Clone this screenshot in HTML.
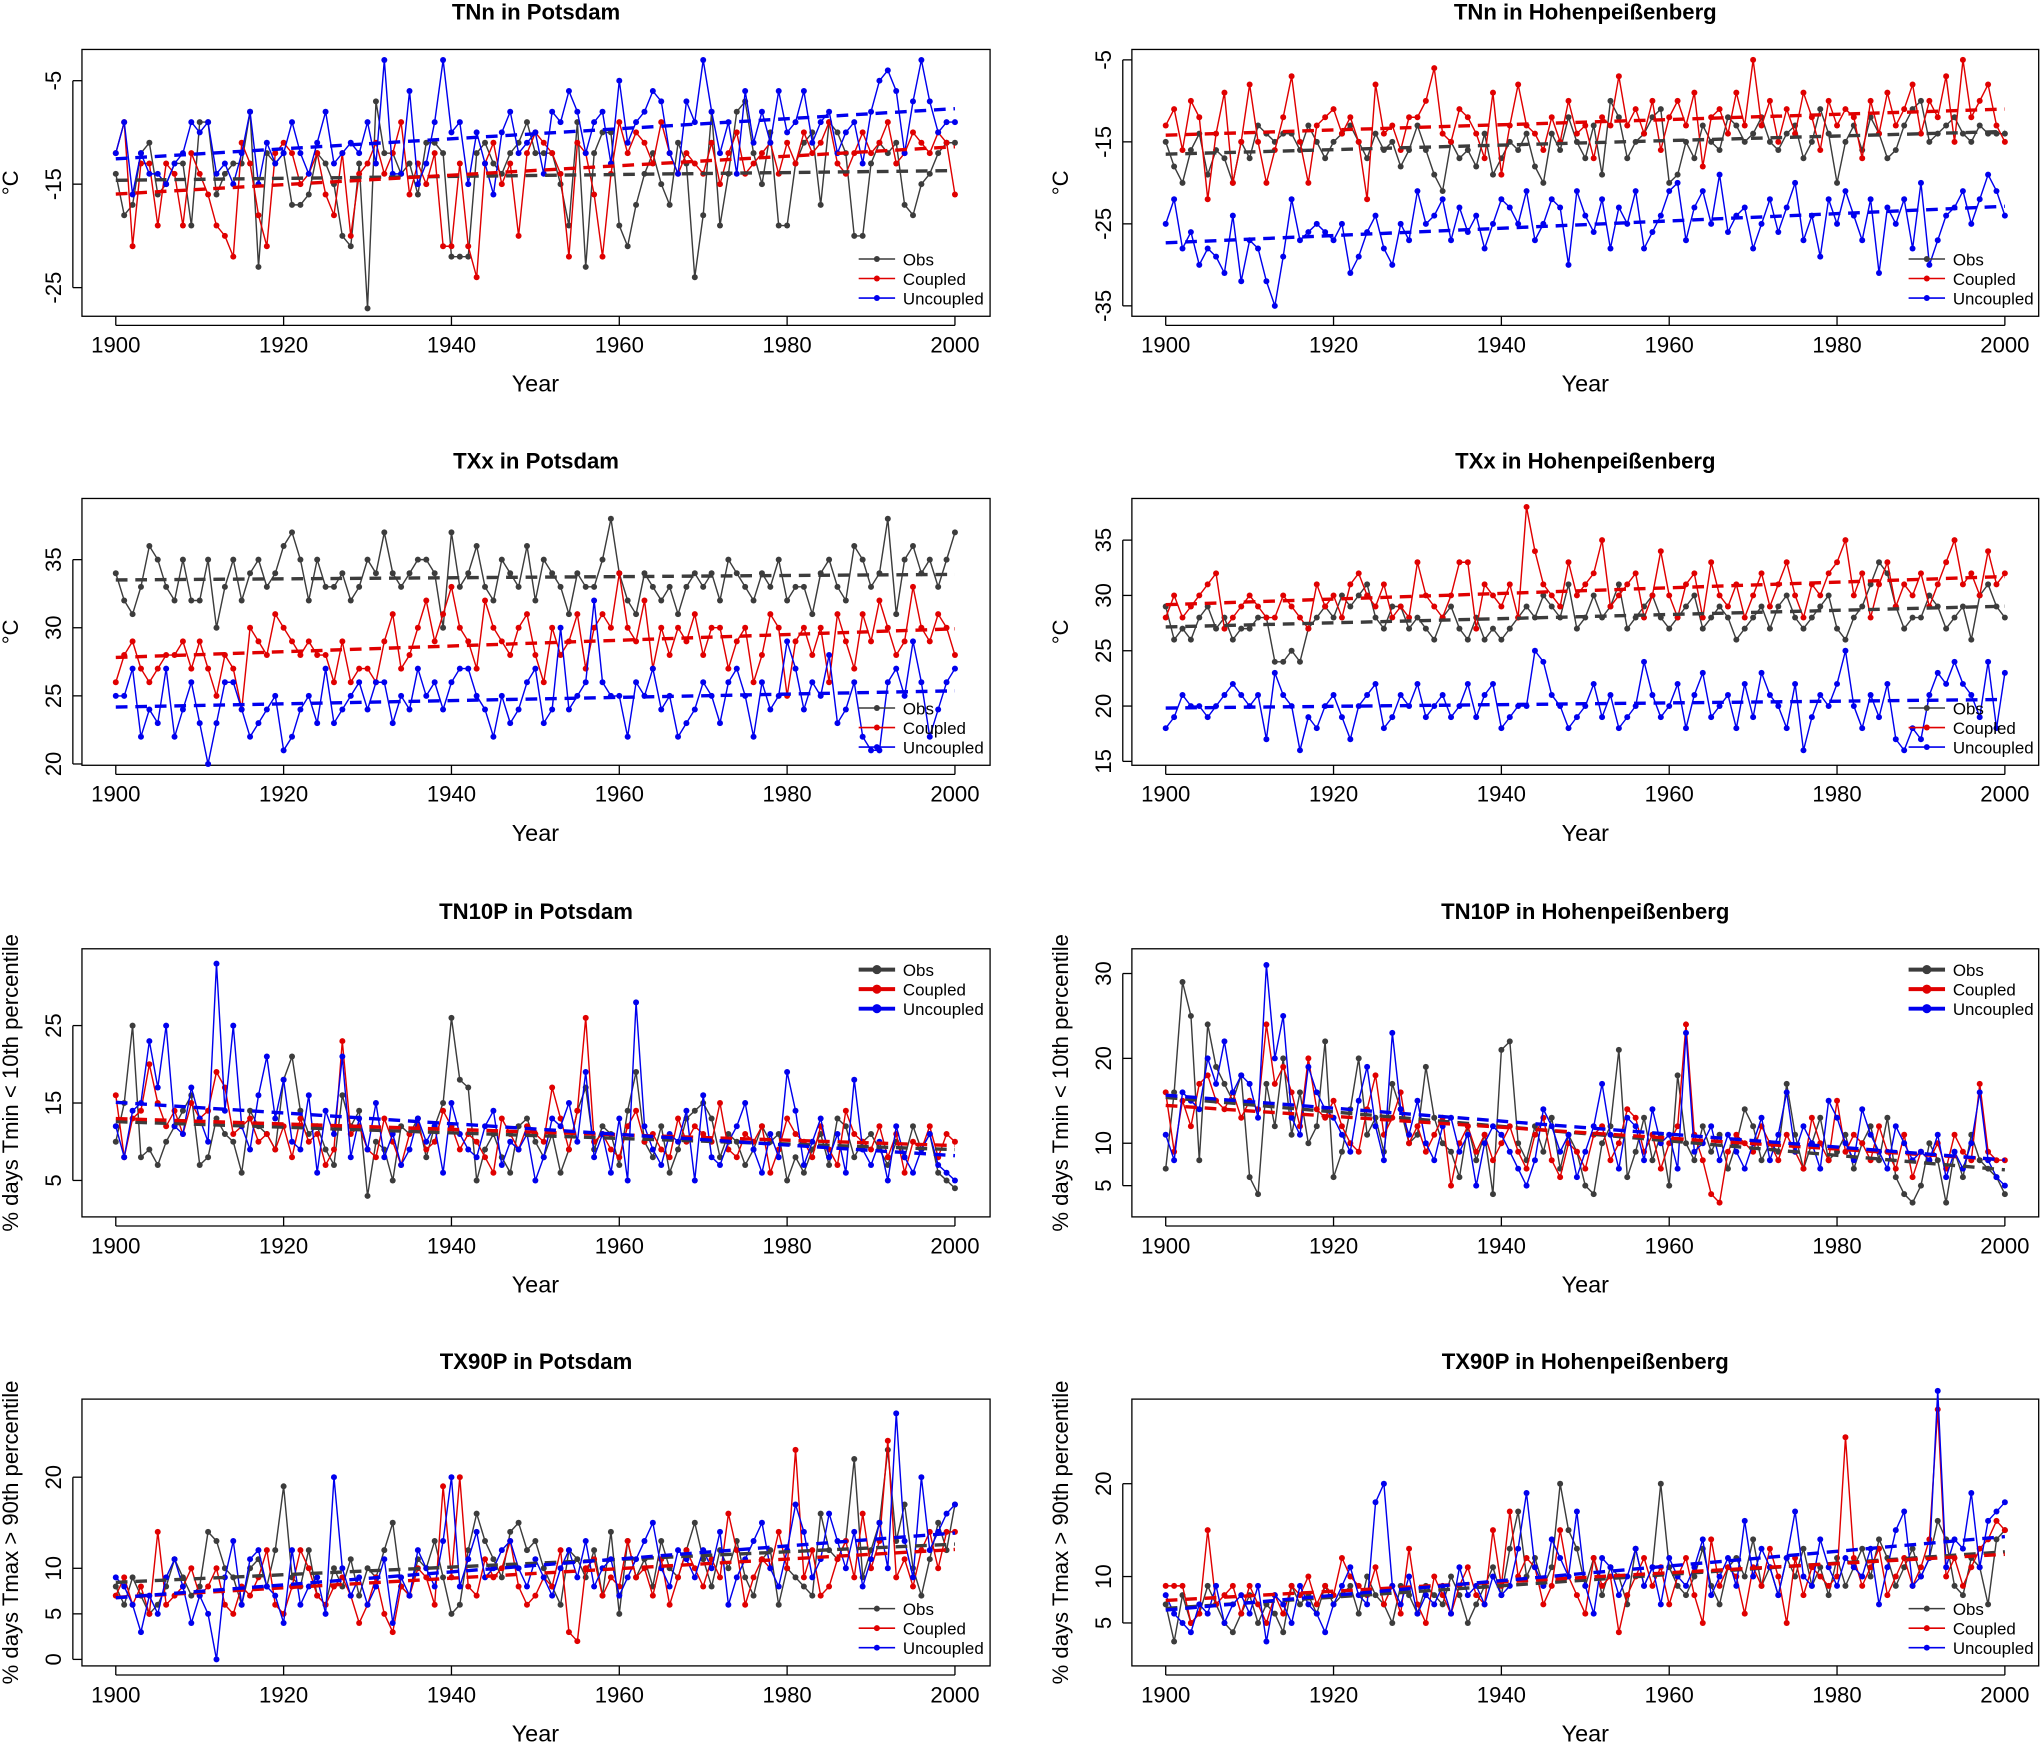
<!DOCTYPE html>
<html><head><meta charset="utf-8"><title>Climate extremes</title>
<style>html,body{margin:0;padding:0;background:#fff}svg{display:block;font-family:"Liberation Sans",Arial,sans-serif}</style>
</head><body>
<svg id="chart" width="2040" height="1744" viewBox="0 0 1568 1340" preserveAspectRatio="none" xmlns="http://www.w3.org/2000/svg"></svg>
<script>
const years=[];for(let y=1900;y<=2000;y++)years.push(y);
const xTicks=[1900,1920,1940,1960,1980,2000];
const p1Obs=[-14,-18,-17,-12,-11,-16,-15,-13,-13,-19,-9,-9,-16,-14,-13,-13,-8,-23,-12,-13,-12,-17,-17,-16,-12,-13,-15,-20,-21,-13,-27,-7,-12,-12,-14,-13,-16,-11,-11,-12,-22,-22,-22,-12,-11,-13,-14,-12,-11,-9,-12,-12,-12,-15,-19,-9,-23,-12,-10,-10,-19,-21,-17,-14,-12,-15,-17,-11,-13,-24,-18,-8,-19,-14,-8,-7,-12,-15,-10,-19,-19,-13,-11,-10,-17,-9,-10,-12,-20,-20,-13,-11,-12,-11,-17,-18,-15,-14,-12,-11,-11];
const p1Cpl=[-12,-9,-21,-13,-13,-19,-13,-14,-19,-12,-14,-16,-19,-20,-22,-11,-13,-18,-21,-12,-11,-12,-15,-14,-12,-16,-18,-12,-20,-14,-13,-11,-14,-12,-9,-16,-13,-15,-12,-21,-21,-13,-21,-24,-13,-11,-15,-13,-20,-12,-10,-11,-12,-14,-22,-11,-12,-16,-22,-14,-9,-12,-10,-11,-13,-9,-12,-14,-12,-13,-14,-11,-15,-12,-10,-14,-13,-12,-11,-14,-11,-13,-10,-12,-11,-9,-13,-14,-12,-10,-12,-11,-9,-13,-12,-10,-11,-12,-10,-11,-16];
const p1Unc=[-12,-9,-16,-12,-14,-14,-15,-13,-12,-9,-10,-9,-14,-13,-15,-12,-8,-15,-11,-13,-12,-9,-12,-14,-11,-8,-13,-12,-11,-12,-9,-13,-3,-14,-14,-6,-15,-13,-9,-3,-10,-9,-15,-10,-13,-16,-10,-8,-12,-11,-10,-14,-8,-9,-6,-8,-12,-9,-8,-13,-5,-11,-9,-8,-6,-7,-12,-14,-7,-9,-3,-8,-12,-9,-14,-6,-11,-8,-11,-6,-10,-9,-6,-11,-9,-8,-12,-10,-9,-13,-8,-5,-4,-6,-12,-7,-3,-7,-10,-9,-9];
const p2Obs=[-15,-18,-20,-16,-14,-19,-16,-17,-20,-15,-17,-13,-14,-15,-14,-14,-16,-13,-15,-17,-15,-14,-13,-15,-17,-14,-16,-15,-18,-16,-13,-16,-19,-21,-15,-17,-16,-18,-14,-19,-17,-15,-16,-14,-18,-20,-14,-16,-12,-15,-17,-13,-19,-10,-12,-17,-15,-14,-12,-11,-20,-19,-15,-17,-13,-15,-16,-12,-13,-15,-14,-12,-15,-16,-14,-13,-17,-15,-11,-14,-20,-15,-13,-16,-12,-14,-17,-16,-13,-11,-10,-15,-14,-13,-12,-14,-15,-13,-14,-14,-14];
const p2Cpl=[-13,-11,-16,-10,-12,-22,-14,-9,-20,-15,-8,-15,-20,-16,-12,-7,-15,-20,-13,-12,-11,-14,-12,-15,-22,-8,-14,-13,-16,-12,-12,-10,-6,-14,-15,-11,-12,-14,-17,-9,-19,-13,-8,-13,-14,-16,-12,-15,-10,-14,-13,-17,-12,-13,-7,-13,-11,-14,-10,-16,-12,-10,-13,-9,-18,-12,-11,-14,-9,-13,-5,-13,-10,-15,-11,-14,-9,-12,-16,-10,-13,-11,-12,-17,-10,-14,-9,-13,-11,-8,-14,-10,-12,-7,-15,-5,-12,-10,-8,-13,-15];
const p2Unc=[-25,-22,-28,-26,-30,-28,-29,-31,-24,-32,-27,-28,-32,-35,-29,-22,-27,-26,-25,-26,-27,-25,-31,-29,-26,-24,-28,-30,-25,-27,-21,-25,-24,-22,-27,-23,-26,-24,-28,-25,-22,-23,-25,-21,-27,-25,-22,-23,-30,-21,-24,-26,-22,-28,-23,-25,-21,-28,-26,-24,-21,-20,-27,-23,-21,-25,-19,-26,-24,-23,-28,-25,-22,-26,-23,-20,-27,-24,-29,-22,-25,-21,-24,-27,-22,-31,-23,-25,-22,-28,-20,-30,-27,-24,-23,-21,-25,-22,-19,-21,-24];
const p3Obs=[34,32,31,33,36,35,33,32,35,32,32,35,30,33,35,32,34,35,33,34,36,37,35,32,35,33,33,34,32,33,35,34,37,34,33,34,35,35,34,30,37,33,34,36,33,32,35,34,33,36,32,35,34,33,31,34,33,33,35,38,34,32,31,34,33,32,33,31,33,34,33,34,32,35,34,33,32,34,33,35,32,33,33,31,34,35,33,32,36,35,33,34,38,31,35,36,34,35,33,35,37];
const p3Cpl=[26,28,29,27,26,27,28,28,29,27,29,27,25,28,27,24,30,29,28,31,30,29,28,29,28,28,26,29,26,27,27,26,29,31,27,28,30,32,29,31,33,30,29,27,32,30,29,28,30,31,28,26,30,28,29,31,27,30,31,30,34,30,29,32,27,30,28,30,29,31,28,30,30,27,29,30,26,28,31,30,25,29,30,28,30,26,31,29,27,31,29,32,30,28,29,33,30,29,31,30,28];
const p3Unc=[25,25,27,22,24,23,27,22,24,26,23,20,23,26,26,24,22,23,24,25,21,22,24,25,23,27,23,24,25,26,24,26,26,23,25,24,27,25,26,24,26,27,27,25,24,22,25,23,24,26,27,23,24,30,24,25,26,32,26,25,25,22,26,25,27,24,25,22,23,24,26,25,23,26,27,25,22,26,24,25,29,27,24,26,25,28,23,24,26,22,21,21,26,27,25,29,26,22,24,26,27];
const p4Obs=[29,26,27,26,28,29,27,28,26,27,27,28,28,24,24,25,24,27,28,29,28,30,29,30,31,28,27,29,29,27,28,27,26,28,29,27,26,28,26,27,26,27,28,29,28,30,29,28,31,27,28,30,28,29,31,27,28,29,30,28,27,28,29,30,27,28,29,28,26,27,28,29,27,29,30,28,27,28,29,30,27,26,28,29,31,33,32,29,27,28,28,30,29,27,28,29,26,30,31,29,28];
const p4Cpl=[28,30,28,29,30,31,32,27,28,29,30,29,28,28,30,29,28,27,31,29,30,28,31,32,30,29,31,28,29,28,33,30,29,28,30,33,33,27,31,30,29,31,28,38,34,31,30,29,33,30,31,32,35,29,30,31,32,28,30,34,30,28,31,32,28,33,30,29,31,28,30,32,29,31,33,30,28,31,30,32,33,35,30,32,28,31,33,29,31,30,32,29,31,33,35,31,32,30,34,31,32];
const p4Unc=[18,19,21,20,20,19,20,21,22,21,20,21,17,23,21,20,16,19,18,20,21,19,17,20,21,22,18,19,21,20,22,19,20,21,19,20,22,19,21,22,18,19,20,20,25,24,21,20,18,19,20,22,19,21,18,19,20,24,21,19,20,22,18,21,23,19,20,21,18,22,19,23,21,20,18,22,16,19,21,20,22,25,20,18,21,19,22,17,16,18,17,21,23,22,24,22,21,19,24,18,23];
const p5Obs=[10,15,25,8,9,7,10,12,14,16,7,8,13,11,10,6,14,12,11,9,18,21,14,11,12,9,7,16,12,14,3,10,9,5,12,11,13,8,12,15,26,18,17,5,9,11,8,6,12,13,10,8,11,6,9,14,17,9,12,11,7,14,19,10,8,12,6,9,13,14,15,13,8,11,10,7,9,12,10,11,5,8,6,9,11,7,13,12,8,10,11,9,7,10,8,12,9,11,6,5,4];
const p5Cpl=[16,8,13,14,20,15,12,14,11,15,13,14,19,17,11,12,13,10,11,9,12,8,13,10,11,7,9,23,11,12,9,8,13,10,7,11,12,9,10,14,12,9,11,10,8,6,13,11,9,12,11,10,17,13,9,14,26,10,11,9,8,12,14,10,11,9,8,13,10,12,11,10,15,9,8,11,10,12,6,9,13,11,10,8,12,9,7,14,11,10,9,12,8,11,6,10,9,12,8,11,10];
const p5Unc=[12,8,14,15,23,17,25,12,11,17,13,10,33,14,25,12,9,16,21,13,18,10,9,16,6,14,11,21,8,13,9,15,8,11,7,9,13,10,12,6,15,11,9,8,12,14,7,10,9,11,5,8,13,12,15,10,19,8,11,6,13,5,28,12,9,7,11,10,14,5,16,8,7,10,12,15,9,6,11,8,19,14,7,10,13,8,11,6,18,9,7,10,5,12,8,6,9,11,7,6,5];
const p6Obs=[7,16,29,25,8,24,19,17,15,18,6,4,17,12,20,11,16,10,12,22,6,9,14,20,11,13,9,17,14,10,11,19,13,10,9,6,12,8,11,4,21,22,10,8,12,9,13,7,11,9,5,4,10,12,21,6,9,13,8,11,5,18,10,8,12,9,11,7,10,14,12,8,10,9,17,11,7,10,13,8,9,11,7,10,12,8,13,6,4,3,5,10,8,3,9,6,11,8,7,6,4];
const p6Cpl=[16,9,15,12,17,18,15,14,16,13,15,14,24,17,19,16,12,20,14,13,15,12,10,9,14,18,11,13,16,10,12,9,11,13,5,10,12,9,11,8,10,12,9,7,11,13,8,6,10,9,7,11,12,8,10,14,13,9,11,7,10,12,24,11,8,4,3,9,11,10,9,12,10,8,11,9,7,13,10,8,15,9,11,10,8,12,9,7,11,6,9,8,10,7,11,9,8,17,9,8,8];
const p6Unc=[11,8,16,15,14,20,17,22,16,18,17,13,31,20,25,13,11,19,16,14,13,11,9,15,19,12,8,23,14,11,15,10,8,12,13,9,11,5,10,12,11,9,7,5,8,14,12,9,11,6,9,12,17,11,7,13,12,8,14,10,11,7,23,9,10,12,8,11,9,7,10,13,8,11,16,9,12,10,7,15,13,10,8,14,11,9,7,12,10,8,9,8,11,6,9,7,10,16,8,6,5];
const p7Obs=[8,6,9,7,5,6,8,11,9,7,8,14,13,10,9,6,10,11,8,12,19,9,8,12,7,6,10,8,11,7,10,9,12,15,8,7,11,10,13,9,5,6,12,16,13,11,9,14,15,12,13,10,8,6,12,11,9,12,7,14,5,13,9,11,8,13,10,9,12,15,11,8,12,10,13,9,7,11,12,6,10,9,8,7,16,12,11,13,22,9,12,15,23,13,17,10,7,11,15,12,17];
const p7Cpl=[7,9,6,8,5,14,6,7,8,10,7,8,10,6,5,8,7,9,12,6,5,8,12,10,7,6,8,9,7,4,6,9,5,3,8,7,10,9,6,19,9,20,8,7,11,9,10,13,8,6,7,9,8,12,3,2,10,11,7,9,8,13,9,10,7,11,6,9,12,10,8,11,9,16,12,6,9,11,10,14,10,23,9,12,7,8,11,13,9,16,10,13,24,9,11,8,12,14,10,14,14];
const p7Unc=[9,8,6,3,7,5,9,11,8,4,7,5,0,9,13,6,11,12,8,7,4,12,6,8,9,5,20,10,7,9,6,8,11,4,9,7,12,10,8,13,20,8,11,14,9,10,12,13,10,8,11,9,7,10,12,9,13,8,10,11,7,9,11,13,15,10,8,12,11,9,12,10,14,6,9,11,13,15,10,8,12,17,14,9,11,16,13,10,14,8,11,15,10,27,13,9,20,12,14,16,17];
const p8Obs=[7,3,8,5,6,9,7,5,4,6,8,5,7,6,4,9,7,8,6,9,7,8,9,6,10,8,7,5,9,8,6,9,8,7,10,8,5,7,9,11,8,13,17,10,12,9,11,20,15,13,9,12,8,11,10,7,13,9,11,20,11,9,8,10,13,9,7,11,12,10,14,9,11,8,12,10,13,9,11,8,12,9,11,13,10,14,12,9,11,13,10,12,16,14,9,8,12,11,7,14,15];
const p8Cpl=[9,9,9,5,6,15,7,8,9,6,9,7,5,8,6,9,8,10,7,9,8,12,10,9,8,11,7,9,6,13,7,5,10,8,6,9,11,8,7,15,9,17,10,12,11,7,9,15,10,8,6,12,9,10,4,8,10,12,9,11,7,10,12,8,5,14,9,11,10,6,11,9,13,10,5,12,8,11,10,9,10,25,12,9,11,13,8,10,12,9,11,14,28,10,12,9,11,13,14,16,15];
const p8Unc=[8,6,5,4,7,6,9,5,7,8,6,9,3,8,7,5,9,7,6,4,7,9,11,8,7,18,20,9,7,10,6,8,7,9,6,11,8,9,7,10,8,9,13,19,11,9,14,12,10,17,9,6,12,11,8,10,13,9,11,7,12,10,9,11,14,8,10,12,9,16,10,13,11,8,12,17,10,9,14,11,9,12,11,10,13,7,11,15,17,9,10,12,30,11,14,13,19,11,16,17,18];
const p1Ticks=[-25,-15,-5],p2Ticks=[-35,-25,-15,-5],p3Ticks=[20,25,30,35],p4Ticks=[15,20,25,30,35],p5Ticks=[5,15,25],p6Ticks=[5,10,20,30],p7Ticks=[0,5,10,20],p8Ticks=[5,10,20];

const NS="http://www.w3.org/2000/svg";
const svg=document.getElementById('chart');
function mk(tag,attrs,parent){const e=document.createElementNS(NS,tag);for(const k in attrs)e.setAttribute(k,attrs[k]);(parent||svg).appendChild(e);return e;}
const COL={obs:'#3c3c3c',cpl:'#e00000',unc:'#0000ee'};
const panels=[
 {id:'tnn-potsdam',title:'TNn in Potsdam',col:0,row:0,s:[p1Obs,p1Cpl,p1Unc],ticks:p1Ticks,ref:[-5,62,-25,221],yl:'°C',leg:'bottom'},
 {id:'tnn-hohen',title:'TNn in Hohenpeißenberg',col:1,row:0,s:[p2Obs,p2Cpl,p2Unc],ticks:p2Ticks,ref:[-5,46,-35,235],yl:'°C',leg:'bottom'},
 {id:'txx-potsdam',title:'TXx in Potsdam',col:0,row:1,s:[p3Obs,p3Cpl,p3Unc],ticks:p3Ticks,ref:[35,430,20,587],yl:'°C',leg:'bottom'},
 {id:'txx-hohen',title:'TXx in Hohenpeißenberg',col:1,row:1,s:[p4Obs,p4Cpl,p4Unc],ticks:p4Ticks,ref:[35,415,15,585],yl:'°C',leg:'bottom'},
 {id:'tn10p-potsdam',title:'TN10P in Potsdam',col:0,row:2,s:[p5Obs,p5Cpl,p5Unc],ticks:p5Ticks,ref:[25,788,5,907],yl:'% days Tmin < 10th percentile',leg:'top'},
 {id:'tn10p-hohen',title:'TN10P in Hohenpeißenberg',col:1,row:2,s:[p6Obs,p6Cpl,p6Unc],ticks:p6Ticks,ref:[30,748,5,911],yl:'% days Tmin < 10th percentile',leg:'top'},
 {id:'tx90p-potsdam',title:'TX90P in Potsdam',col:0,row:3,s:[p7Obs,p7Cpl,p7Unc],ticks:p7Ticks,ref:[20,1135,0,1275],yl:'% days Tmax > 90th percentile',leg:'bottom'},
 {id:'tx90p-hohen',title:'TX90P in Hohenpeißenberg',col:1,row:3,s:[p8Obs,p8Cpl,p8Unc],ticks:p8Ticks,ref:[20,1140,5,1247],yl:'% days Tmax > 90th percentile',leg:'bottom'}
];
const boxX=[[63,761],[870,1567]], boxY=[[38,243],[383,588],[729,935],[1075,1280]];
const names=['obs','coupled','uncoupled'], keys=['obs','cpl','unc'];
panels.forEach(p=>{
 const g=mk('g',{});
 
 
 const [bx0,bx1]=boxX[p.col],[by0,by1]=boxY[p.row];
 const xs=yr=>(p.col?896:89)+(yr-1900)*6.45;
 const [vA,yA,vB,yB]=p.ref;
 const ys=v=>yA+(v-vA)*(yB-yA)/(vB-vA);
 const cx=(bx0+bx1)/2;
 const t=mk('text',{x:cx,y:by0-23,'text-anchor':'middle','font-size':17,'font-weight':'bold'},g);t.textContent=p.title;
 
 // x axis
 xTicks.forEach(v=>{mk('line',{x1:xs(v),x2:xs(v),y1:by1,y2:by1+7,stroke:'#000'},g);
  const l=mk('text',{x:xs(v),y:by1+28,'text-anchor':'middle','font-size':17},g);l.textContent=v;
  });
 mk('line',{x1:xs(1900),x2:xs(2000),y1:by1+7,y2:by1+7,stroke:'#000'},g);
 const xl=mk('text',{x:xs(1950),y:by1+58,'text-anchor':'middle','font-size':18},g);xl.textContent='Year';
 
 // y axis
 const ax=bx0-7;
 p.ticks.forEach(v=>{mk('line',{x1:ax,x2:bx0,y1:ys(v),y2:ys(v),stroke:'#000'},g);
  const l=mk('text',{x:0,y:0,'text-anchor':'middle','font-size':17,transform:`translate(${bx0-16},${ys(v)}) rotate(-90)`},g);l.textContent=v;
  });
 mk('line',{x1:ax,x2:ax,y1:ys(Math.min(...p.ticks)),y2:ys(Math.max(...p.ticks)),stroke:'#000'},g);
 const yt=mk('text',{x:0,y:0,'text-anchor':'middle','font-size':17,transform:`translate(${bx0-49},${(by0+by1)/2}) rotate(-90)`},g);yt.textContent=p.yl;
 
 mk('rect',{x:bx0,y:by0,width:bx1-bx0,height:by1-by0,fill:'none',stroke:'#000','stroke-width':1},g);
 // series
 p.s.forEach((arr,si)=>{
  const c=COL[keys[si]];
  const pts=arr.map((v,i)=>xs(years[i]).toFixed(1)+','+ys(v).toFixed(1)).join(' ');
  const pl=mk('polyline',{points:pts,fill:'none',stroke:c,'stroke-width':1.1},g);
  
  arr.forEach((v,i)=>{const d=mk('circle',{cx:xs(years[i]),cy:ys(v),r:2.3,fill:c},g);
   });
 });
 // trends
 p.s.forEach((arr,si)=>{
  const n=arr.length;let sx=0,sy=0,sxx=0,sxy=0;
  arr.forEach((v,i)=>{const x=years[i];sx+=x;sy+=v;sxx+=x*x;sxy+=x*v;});
  const b=(n*sxy-sx*sy)/(n*sxx-sx*sx),a=(sy-b*sx)/n;
  const tl=mk('line',{x1:xs(1900),x2:xs(years[n-1]),y1:ys(a+b*1900),y2:ys(a+b*years[n-1]),stroke:COL[keys[si]],'stroke-width':2.6,'stroke-dasharray':'9,6'},g);
  
 });
 // legend
 const lx=p.col?1467:660;const ly0=p.leg==='top'?by0+16:by1-44;const big=p.leg==='top';
 ['Obs','Coupled','Uncoupled'].forEach((lab,i)=>{
  const yy=ly0+i*15,c=COL[keys[i]];
  const lg=mk('g',{},g);
  
  mk('line',{x1:lx,x2:lx+28,y1:yy,y2:yy,stroke:c,'stroke-width':big?3:1.2},lg);
  mk('circle',{cx:lx+14,cy:yy,r:big?3.5:2.3,fill:c},lg);
  const tx=mk('text',{x:lx+34,y:yy+5,'font-size':13},lg);tx.textContent=lab;
 });
});
</script>
</body></html>
